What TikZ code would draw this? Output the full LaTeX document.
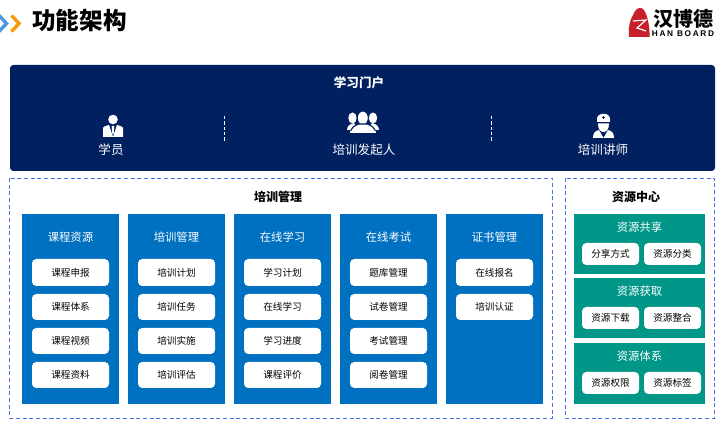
\documentclass[tikz,border=0pt]{standalone}
\usepackage{fontspec}
\setmainfont{Noto Sans CJK SC}
\newfontfamily\logofont[LetterSpace=20]{Liberation Sans}
\usetikzlibrary{calc}
\definecolor{navy}{HTML}{002060}
\definecolor{colblue}{HTML}{0070C0}
\definecolor{teal2}{HTML}{009688}
\definecolor{dashblue}{HTML}{4472E4}
\definecolor{arrowblue}{HTML}{4A9BE0}
\definecolor{arroworange}{HTML}{F59A0C}
\definecolor{logored}{HTML}{C8202A}
\tikzset{
 pt/.style={font=\fontsize{#1}{#1}\selectfont},
 dashframe/.style={draw=dashblue,dashed,dash pattern=on 3pt off 2pt,line width=0.7pt},
 column/.style={fill=colblue,draw=none},
 tealbar/.style={fill=teal2,draw=none},
 whitebox/.style={fill=white,draw=none,rounded corners=3.2pt},
 item/.style={pt=7.2,text=black,inner sep=0pt},
 headw/.style={pt=8.5,text=white,inner sep=0pt},
 people/.style={pt=9.4,text=white,inner sep=0pt},
 panelhead/.style={pt=9,text=black,inner sep=0pt,font=\fontsize{9}{9}\selectfont\bfseries},
 chevron/.style={line width=2.6pt,miter limit=10},
}
\newcommand{\colbox}[7]{%
 % #1 name, #2 left x, #3 title, #4-#7 items
 \fill[column] (#2,214) rectangle (#2+97,404);
 \node[headw] (#1h) at (#2+48.5,237) {#3};
 \ifx&#4&\else\fill[whitebox] (#2+10,259) rectangle (#2+87,286); \node[item] (#1a) at (#2+48.5,272.5) {#4};\fi
 \ifx&#5&\else\fill[whitebox] (#2+10,294) rectangle (#2+87,320); \node[item] (#1b) at (#2+48.5,307) {#5};\fi
 \ifx&#6&\else\fill[whitebox] (#2+10,328) rectangle (#2+87,354); \node[item] (#1c) at (#2+48.5,341) {#6};\fi
 \ifx&#7&\else\fill[whitebox] (#2+10,362) rectangle (#2+87,388); \node[item] (#1d) at (#2+48.5,375) {#7};\fi
}
\newcommand{\resbox}[6]{%
 % #1 name, #2 top y, #3 bottom y, #4 title, #5 #6 items
 \fill[tealbar] (574,#2) rectangle (705,#3);
 \node[headw] (#1h) at (639.5,#2+13) {#4};
 \fill[whitebox] (582,#2+29) rectangle (639,#2+51);
 \fill[whitebox] (644,#2+29) rectangle (701,#2+51);
 \node[item] (#1a) at (610.5,#2+40) {#5};
 \node[item] (#1b) at (672.5,#2+40) {#6};
}
\begin{document}
\begin{tikzpicture}[x=0.75pt,y=-0.75pt]
\useasboundingbox (0,0) rectangle (726,434);
\begin{scope}
\clip (0,0) rectangle (726,434);
% header
\draw[arrowblue,chevron] (-1,15.5) -- (6.5,23.5) -- (-1,31.5);
\draw[arroworange,chevron] (11.5,15.5) -- (19,23.5) -- (11.5,31.5);
\end{scope}
\node[inner sep=0pt,font=\fontsize{17.7}{18}\selectfont\bfseries,text=black] (title) at (79.5,21) {功能架构};
% logo
\fill[logored] (629,37) .. controls (628,28) and (630,20) .. (633,15) .. controls (635,9) and (640,6) .. (643,9) .. controls (647,13) and (650,26) .. (649.5,37) -- cycle;
\draw[white,line width=0.9pt] (633,21) -- (646,20) -- (637,28) -- (646,31);
\node[inner sep=0pt,text=black,font=\fontsize{15}{15}\selectfont\bfseries] (logocn) at (683,18.5) {汉博德};
\node[inner sep=0pt,text=black,font=\logofont\fontsize{6.2}{7}\selectfont\bfseries] (logoen) at (683,33.5) {HAN BOARD};
% portal
\fill[navy,rounded corners=2.5pt] (10,65) rectangle (715,171);
\node[inner sep=0pt,text=white,font=\fontsize{9.4}{10}\selectfont\bfseries] (portal) at (359,83) {学习门户};
\draw[white,line width=0.6pt,dash pattern=on 2.6pt off 1.4pt] (224.5,116) -- (224.5,141);
\draw[white,line width=0.6pt,dash pattern=on 2.6pt off 1.4pt] (491.5,116) -- (491.5,141);
\node[people] (p1) at (111,150) {学员};
\node[people] (p2) at (364,150) {培训发起人};
\node[people] (p3) at (603,150) {培训讲师};
% student icon
\fill[white] (113,119.5) circle (4.8);
\fill[white] (103,137) -- (103,128) .. controls (103,127) and (105,126) .. (109,125) -- (113,137) -- (117,125) .. controls (121,126) and (123,127) .. (123,128) -- (123,137) -- cycle;
\fill[white] (111.7,126) -- (114.3,126) -- (113.8,133) -- (113,135) -- (112.2,133) -- cycle;
% sponsor icon
\fill[white] (352.5,118) ellipse (4.2 and 5.5);
\fill[white] (373,118) ellipse (4.2 and 5.5);
\fill[white] (347,130) .. controls (347,126) and (350,124) .. (354,123) -- (358,130) -- cycle;
\fill[white] (379,130) .. controls (379,126) and (376,124) .. (372,123) -- (368,130) -- cycle;
\draw[navy,line width=0.8pt,fill=white] (362.8,118) ellipse (5.6 and 7);
\draw[navy,line width=0.8pt,fill=white] (350,133) .. controls (351,127) and (356,125) .. (359,124) -- (367,124) .. controls (370,125) and (375,127) .. (376,133) -- cycle;
\fill[white] (350,131) rectangle (376,133);
% teacher icon
\fill[white] (597,119) .. controls (597,112) and (610,112) .. (610,119) -- (610,122) -- (597,122) -- cycle;
\fill[white] (598,123.5) -- (609,123.5) .. controls (609,130) and (606,132) .. (603.5,132) .. controls (601,132) and (598,130) .. (598,123.5) -- cycle;
\fill[white] (593,138) .. controls (593,133) and (595,131) .. (599,130) -- (603.5,138) -- (608,130) .. controls (612,131) and (614,133) .. (614,138) -- cycle;
\draw[navy,line width=0.5pt] (602,117.5) -- (605,117.5) (603.5,116) -- (603.5,119);
% frames
\draw[dashframe] (9.5,178) rectangle (552,418);
\draw[dashframe] (565,178) rectangle (714.5,418);
\node[panelhead] (mgr) at (278,197) {培训管理};
\node[panelhead] (res) at (636,197) {资源中心};
% columns
\colbox{ca}{22}{课程资源}{课程申报}{课程体系}{课程视频}{课程资料}
\colbox{cb}{128}{培训管理}{培训计划}{培训任务}{培训实施}{培训评估}
\colbox{cc}{234}{在线学习}{学习计划}{在线学习}{学习进度}{课程评价}
\colbox{cd}{340}{在线考试}{题库管理}{试卷管理}{考试管理}{阅卷管理}
\colbox{ce}{446}{证书管理}{在线报名}{培训认证}{}{}
% resources
\resbox{ra}{214}{274}{资源共享}{分享方式}{资源分类}
\resbox{rb}{278}{338}{资源获取}{资源下载}{资源整合}
\resbox{rc}{343}{404}{资源体系}{资源权限}{资源标签}
\end{tikzpicture}
\end{document}
